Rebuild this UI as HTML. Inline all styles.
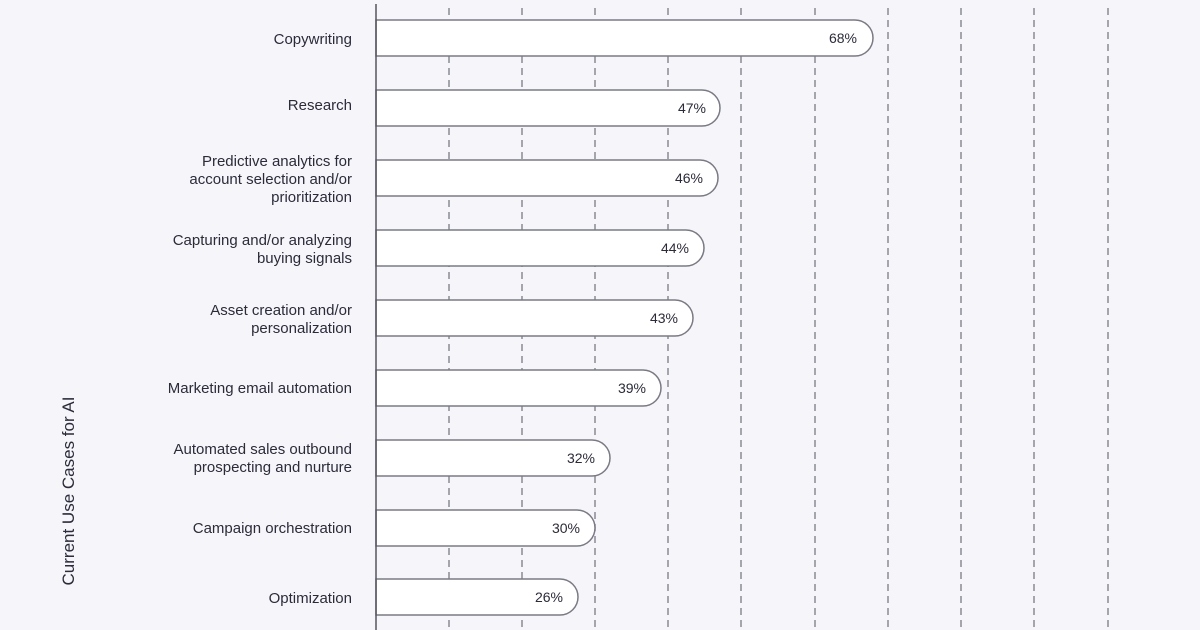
<!DOCTYPE html>
<html><head><meta charset="utf-8"><style>
html,body{margin:0;padding:0;background:#f6f6fa;}
svg{display:block;font-family:"Liberation Sans",sans-serif;}
</style></head><body>
<svg width="1200" height="630" viewBox="0 0 1200 630" xmlns="http://www.w3.org/2000/svg">
<rect width="1200" height="630" fill="#f6f6fa"/>
<g stroke="#8a8a95" stroke-width="1.5" stroke-dasharray="7,5">
<line x1="449" y1="8" x2="449" y2="630"/>
<line x1="522" y1="8" x2="522" y2="630"/>
<line x1="595" y1="8" x2="595" y2="630"/>
<line x1="668" y1="8" x2="668" y2="630"/>
<line x1="741" y1="8" x2="741" y2="630"/>
<line x1="815" y1="8" x2="815" y2="630"/>
<line x1="888" y1="8" x2="888" y2="630"/>
<line x1="961" y1="8" x2="961" y2="630"/>
<line x1="1034" y1="8" x2="1034" y2="630"/>
<line x1="1108" y1="8" x2="1108" y2="630"/>
</g>
<g fill="#fff" stroke="#7a7a85" stroke-width="1.5">
<path d="M376 20 H855 A18 18 0 0 1 855 56 H376Z"/>
<path d="M376 90 H702 A18 18 0 0 1 702 126 H376Z"/>
<path d="M376 160 H700 A18 18 0 0 1 700 196 H376Z"/>
<path d="M376 230 H686 A18 18 0 0 1 686 266 H376Z"/>
<path d="M376 300 H675 A18 18 0 0 1 675 336 H376Z"/>
<path d="M376 370 H643 A18 18 0 0 1 643 406 H376Z"/>
<path d="M376 440 H592 A18 18 0 0 1 592 476 H376Z"/>
<path d="M376 510 H577 A18 18 0 0 1 577 546 H376Z"/>
<path d="M376 579 H560 A18 18 0 0 1 560 615 H376Z"/>
</g>
<line x1="376" y1="4" x2="376" y2="630" stroke="#555560" stroke-width="1.5"/>
<g fill="#2b2b3a" font-size="14" text-anchor="end">
<text x="857" y="43">68%</text>
<text x="706" y="113">47%</text>
<text x="703" y="183">46%</text>
<text x="689" y="253">44%</text>
<text x="678" y="323">43%</text>
<text x="646" y="393">39%</text>
<text x="595" y="463">32%</text>
<text x="580" y="533">30%</text>
<text x="563" y="602">26%</text>
</g>
<g fill="#2b2b3a" font-size="15" text-anchor="end">
<text x="352" y="44">Copywriting</text>
<text x="352" y="110">Research</text>
<text x="352" y="166">Predictive analytics for</text>
<text x="352" y="184">account selection and/or</text>
<text x="352" y="202">prioritization</text>
<text x="352" y="245">Capturing and/or analyzing</text>
<text x="352" y="263">buying signals</text>
<text x="352" y="315">Asset creation and/or</text>
<text x="352" y="333">personalization</text>
<text x="352" y="393">Marketing email automation</text>
<text x="352" y="454">Automated sales outbound</text>
<text x="352" y="472">prospecting and nurture</text>
<text x="352" y="533">Campaign orchestration</text>
<text x="352" y="603">Optimization</text>
<text x="0" y="0" font-size="17" text-anchor="middle" transform="translate(74,491) rotate(-90)">Current Use Cases for AI</text>
</g>
</svg>
</body></html>
